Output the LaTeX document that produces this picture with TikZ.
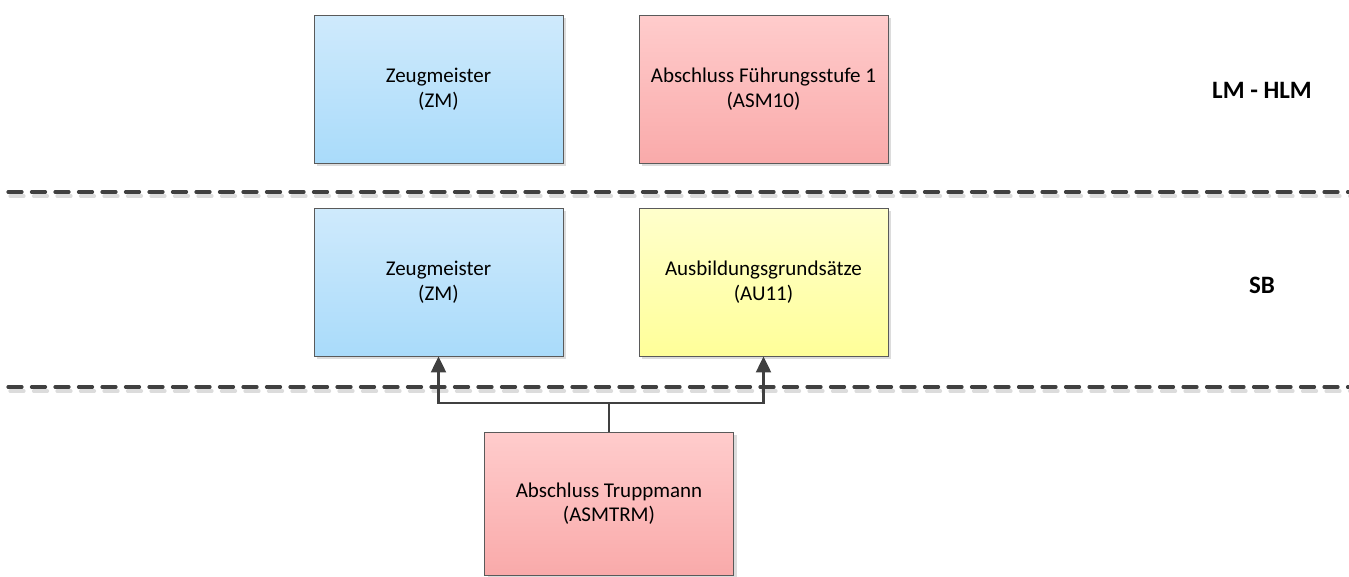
\documentclass[tikz,border=0pt]{standalone}
\usepackage{fontspec}
\setmainfont{Carlito}
\usetikzlibrary{arrows.meta,shadows}
\definecolor{edge}{HTML}{404040}
\definecolor{boxline}{HTML}{5A5A5A}
\definecolor{shad}{HTML}{DCDCDC}
\definecolor{bluetop}{HTML}{CFEAFC}
\definecolor{bluebot}{HTML}{A9DBFA}
\definecolor{redtop}{HTML}{FFCCCC}
\definecolor{redbot}{HTML}{F9AAAA}
\definecolor{yeltop}{HTML}{FFFFCC}
\definecolor{yelbot}{HTML}{FFFF99}
\tikzset{
  box/.style={draw=boxline, line width=0.9pt, minimum width=249pt, minimum height=148pt,
    align=center, font=\fontsize{21}{24.5}\selectfont, inner sep=0pt,
    drop shadow={shadow xshift=3pt, shadow yshift=-3pt, fill=shad, opacity=1}},
  bluebox/.style={box, top color=bluetop, bottom color=bluebot},
  redbox/.style={box, top color=redtop, bottom color=redbot},
  yelbox/.style={box, top color=yeltop, bottom color=yelbot},
  level/.style={font=\bfseries\fontsize{25}{30}\selectfont},
  sep/.style={draw=edge, line width=3.2pt, dash pattern=on 14pt off 9.5pt, line cap=round},
  sepshadow/.style={draw=shad, line width=3.2pt, dash pattern=on 14pt off 9.5pt, line cap=round},
  conn/.style={draw=edge, line width=2.3pt, -{Triangle[length=16pt,width=15pt]}}
}
\begin{document}
\begin{tikzpicture}[x=1pt,y=-1pt]
\useasboundingbox (0,0) rectangle (1349,576);
% separators
\coordinate (s1a) at (8,192);
\coordinate (s1b) at (1349,192);
\coordinate (s2a) at (8,387);
\coordinate (s2b) at (1349,387);
\draw[sepshadow] ([xshift=2pt,yshift=-4pt]s1a) -- ([xshift=2pt,yshift=-4pt]s1b);
\draw[sepshadow] ([xshift=2pt,yshift=-4pt]s2a) -- ([xshift=2pt,yshift=-4pt]s2b);
\draw[sep] (s1a) -- (s1b);
\draw[sep] (s2a) -- (s2b);
% boxes
\node[bluebox] (zm1) at (438.5,89) {Zeugmeister\\(ZM)};
\node[redbox] (asm10) at (763.5,89) {Abschluss Führungsstufe 1\\(ASM10)};
\node[bluebox] (zm2) at (438.5,282) {Zeugmeister\\(ZM)};
\node[yelbox] (au11) at (763.5,282) {Ausbildungsgrundsätze\\(AU11)};
\node[redbox, minimum height=143pt] (asmtrm) at (609,503.5) {Abschluss Truppmann\\(ASMTRM)};
% level labels
\node[level] (lm) at (1262,90) {LM - HLM};
\node[level] (sb) at (1262,285) {SB};
% connectors
\coordinate (j) at (609,403);
\draw[conn] (asmtrm.north) -- (j) -| (zm2.south);
\draw[conn] (asmtrm.north) -- (j) -| (au11.south);
\end{tikzpicture}
\end{document}
